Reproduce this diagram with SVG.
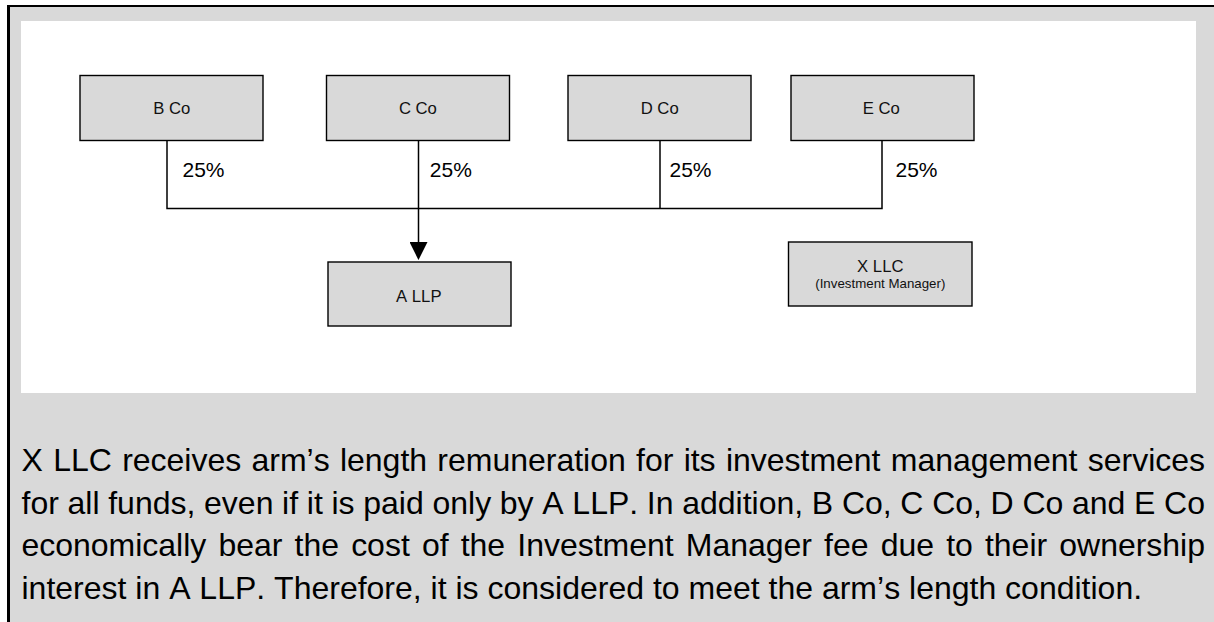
<svg xmlns="http://www.w3.org/2000/svg" width="1214" height="622" viewBox="0 0 1214 622">
  <style>
    text { font-kerning: none; font-feature-settings: "kern" 0; }
    .box { fill: #d9d9d9; stroke: #000; stroke-width: 1.4; }
    .lbl { font-family: "Liberation Sans", Arial, sans-serif; font-size: 16.7px; fill: #111; text-anchor: middle; }
    .sub { font-family: "Liberation Sans", Arial, sans-serif; font-size: 13.3px; fill: #111; text-anchor: middle; }
    .pct { font-family: "Liberation Sans", Arial, sans-serif; font-size: 21px; fill: #000; }
    .wire { fill: none; stroke: #000; stroke-width: 1.5; }
    .para { font-family: "Liberation Sans", Arial, sans-serif; font-size: 32px; fill: #000; }
  </style>
  <defs>
    <marker id="arrow" markerUnits="userSpaceOnUse" markerWidth="18" markerHeight="18"
            viewBox="0 0 17 17" refX="7.5" refY="8.5" orient="auto">
      <path d="M0,0 L17,8.5 L0,17 Z" fill="#000"/>
    </marker>
  </defs>

  <!-- page frame -->
  <rect x="0" y="0" width="1214" height="622" fill="#fff"/>
  <rect x="10" y="7" width="1204" height="615" fill="#d9d9d9"/>
  <line x1="7" y1="6" x2="1214" y2="6" stroke="#000" stroke-width="2"/>
  <line x1="8.5" y1="5" x2="8.5" y2="622" stroke="#000" stroke-width="3"/>
  <rect x="21" y="21" width="1175" height="372" fill="#fff"/>

  <!-- ownership connectors -->
  <g id="connectors">
    <polyline class="wire" points="167,140.5 167,208.5 882,208.5 882,140.5"/>
    <line class="wire" x1="660" y1="140.5" x2="660" y2="208.5"/>
    <line class="wire" x1="418.5" y1="140.5" x2="418.5" y2="250" marker-end="url(#arrow)"/>
    <text class="pct" x="182.5" y="177">25%</text>
    <text class="pct" x="429.8" y="177.3">25%</text>
    <text class="pct" x="669.5" y="177.3">25%</text>
    <text class="pct" x="895.5" y="176.5">25%</text>
  </g>

  <g id="b-co">
    <rect class="box" x="80" y="75.5" width="183" height="65"/>
    <text class="lbl" x="171.7" y="113.5">B Co</text>
  </g>
  <g id="c-co">
    <rect class="box" x="326.5" y="75.5" width="183" height="65"/>
    <text class="lbl" x="417.9" y="114">C Co</text>
  </g>
  <g id="d-co">
    <rect class="box" x="568" y="75.5" width="183" height="65"/>
    <text class="lbl" x="659.7" y="114">D Co</text>
  </g>
  <g id="e-co">
    <rect class="box" x="791" y="75.5" width="183" height="65"/>
    <text class="lbl" x="881.2" y="114">E Co</text>
  </g>
  <g id="a-llp">
    <rect class="box" x="328" y="262" width="183" height="64"/>
    <text class="lbl" x="418.8" y="301.7">A LLP</text>
  </g>
  <g id="x-llc">
    <rect class="box" x="788.5" y="242" width="183.5" height="64"/>
    <text class="lbl" x="880.3" y="271.7">X LLC</text>
    <text class="sub" x="880.3" y="287.5">(Investment Manager)</text>
  </g>

  <!-- explanatory note: justified lines, widened at the word gaps -->
  <g id="note">
    <text class="para" x="21.5" y="471" word-spacing="1.45" textLength="1183.5" lengthAdjust="spacing">X LLC receives arm’s length remuneration for its investment management services</text>
    <text class="para" x="21.5" y="513.5" word-spacing="-0.21" textLength="1183.5" lengthAdjust="spacing">for all funds, even if it is paid only by A LLP. In addition, B Co, C Co, D Co and E Co</text>
    <text class="para" x="21.5" y="556" word-spacing="3.26" textLength="1183.5" lengthAdjust="spacing">economically bear the cost of the Investment Manager fee due to their ownership</text>
    <text class="para" x="21.5" y="598.5">interest in A LLP. Therefore, it is considered to meet the arm’s length condition.</text>
  </g>
</svg>
